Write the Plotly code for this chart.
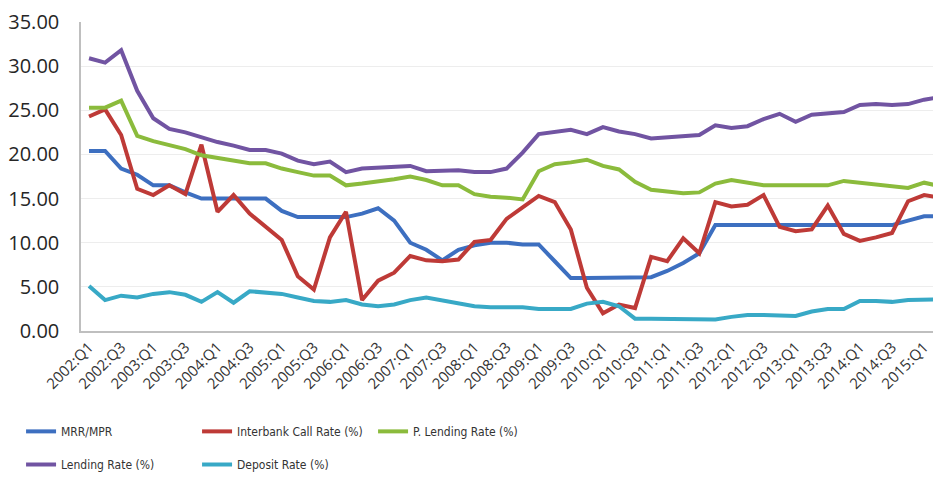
import plotly.graph_objects as go

quarters = [f"{y}:Q{q}" for y in range(2002, 2016) for q in range(1, 5)][:54]

mrr_mpr = [20.4, 20.4, 18.4, 17.7, 16.5, 16.5, 15.7, 15.0, 15.0, 15.0, 15.0, 15.0,
           13.6, 12.9, 12.9, 12.9, 12.9, 13.3, 13.9, 12.5, 10.0, 9.2, 8.0, 9.2,
           9.7, 10.0, 10.0, 9.8, 9.8, 7.9, 6.0, 6.0, 6.0, 6.0, 6.0, 6.1,
           6.8, 7.7, 8.8, 12.0, 12.0, 12.0, 12.0, 12.0, 12.0, 12.0, 12.0, 12.0,
           12.0, 12.0, 12.0, 12.5, 13.0, 13.0]

interbank = [24.3, 25.1, 22.2, 16.1, 15.4, 16.5, 15.5, 21.1, 13.5, 15.4, 13.3, 11.8,
             10.3, 6.2, 4.7, 10.6, 13.5, 3.5, 5.7, 6.6, 8.5, 8.0, 7.9, 8.1,
             10.1, 10.3, 12.7, 14.0, 15.3, 14.6, 11.5, 4.9, 2.0, 3.0, 2.6, 8.4,
             7.9, 10.5, 8.8, 14.6, 14.1, 14.3, 15.4, 11.8, 11.3, 11.5, 14.2, 11.0,
             10.2, 10.6, 11.1, 14.7, 15.4, 15.1]

p_lending = [25.3, 25.3, 26.1, 22.1, 21.5, 21.1, 20.6, 19.9, 19.6, 19.4, 19.0, 19.0,
             18.4, 18.0, 17.6, 17.6, 16.5, 16.7, 16.9, 17.2, 17.5, 17.1, 16.5, 16.5,
             15.5, 15.2, 15.1, 14.9, 18.1, 18.9, 19.1, 19.4, 18.7, 18.3, 16.9, 16.0,
             15.8, 15.6, 15.7, 16.7, 17.1, 16.8, 16.5, 16.5, 16.5, 16.5, 16.5, 17.0,
             16.8, 16.5, 16.4, 16.2, 16.8, 16.4]

lending = [30.9, 30.4, 31.8, 27.2, 24.1, 22.9, 22.5, 21.9, 21.4, 21.0, 20.5, 20.5,
           20.1, 19.3, 18.9, 19.2, 18.0, 18.4, 18.5, 18.6, 18.7, 18.1, 18.2, 18.2,
           18.0, 18.0, 18.4, 20.2, 22.3, 22.5, 22.8, 22.3, 23.1, 22.6, 22.3, 21.8,
           21.9, 22.0, 22.2, 23.3, 23.0, 23.2, 24.0, 24.6, 23.7, 24.5, 24.7, 24.8,
           25.6, 25.7, 25.6, 25.7, 26.2, 26.5]

deposit = [5.1, 3.5, 4.0, 3.8, 4.2, 4.4, 4.1, 3.3, 4.4, 3.2, 4.5, 4.4,
           4.2, 3.8, 3.4, 3.3, 3.5, 3.0, 2.8, 3.0, 3.5, 3.8, 3.5, 3.2,
           2.8, 2.7, 2.7, 2.7, 2.5, 2.5, 2.5, 3.1, 3.3, 2.8, 1.4, 1.4,
           1.4, 1.3, 1.4, 1.3, 1.6, 1.8, 1.8, 1.7, 1.7, 2.2, 2.5, 2.5,
           3.4, 3.4, 3.3, 3.5, 3.6, 3.6]

series = [
    ("MRR/MPR", mrr_mpr, "#3D6FC0", "legend"),
    ("Interbank Call Rate (%)", interbank, "#BE3A37", "legend"),
    ("P. Lending Rate (%)", p_lending, "#8BBB3C", "legend"),
    ("Lending Rate (%)", lending, "#7154A2", "legend2"),
    ("Deposit Rate (%)", deposit, "#38A9C6", "legend2"),
]

fig = go.Figure()
for name, vals, color, lg in series:
    fig.add_trace(go.Scatter(
        x=quarters, y=vals, name=name, mode="lines",
        line=dict(color=color, width=4), legend=lg,
    ))

# page body has an 8px margin, so the figure is shrunk/offset accordingly
PLOT_H = 314

legend_font = dict(family="Liberation Sans Narrow, DejaVu Sans Condensed, Arial", size=12, color="#333333")
common_leg = dict(orientation="h", xanchor="left", yanchor="middle",
                  entrywidth=131, entrywidthmode="pixels",
                  font=legend_font, bgcolor="rgba(0,0,0,0)", borderwidth=0,
                  itemwidth=30, traceorder="normal")

fig.update_layout(
    width=933, height=471,
    margin=dict(l=72, r=0, t=9, b=148),
    paper_bgcolor="white", plot_bgcolor="white",
    showlegend=True,
    legend=dict(x=-0.0697, y=-(433 - 331) / PLOT_H, **common_leg),
    legend2=dict(x=-0.0697, y=-(467 - 331) / PLOT_H, **common_leg),
    xaxis=dict(
        type="category", range=[-0.5, 53.05],
        tickmode="linear", tick0=0, dtick=2,
        tickangle=-45, showgrid=False,
        showline=True, linecolor="#BFBFBF", linewidth=1.5,
        ticks="", tickfont=dict(family="Open Sans", size=15, color="#333333"),
    ),
    yaxis=dict(
        range=[0, 35], tickmode="linear", tick0=0, dtick=5,
        tickformat=".2f", showgrid=True, gridcolor="#EDEDED", gridwidth=1,
        showline=True, linecolor="#BFBFBF", linewidth=1.5,
        zeroline=False, ticks="", ticklabelstandoff=16,
        ticklabeloverflow="allow",
        tickfont=dict(family="Open Sans", size=20, color="#262626"),
    ),
)

fig.write_html("out.html")
